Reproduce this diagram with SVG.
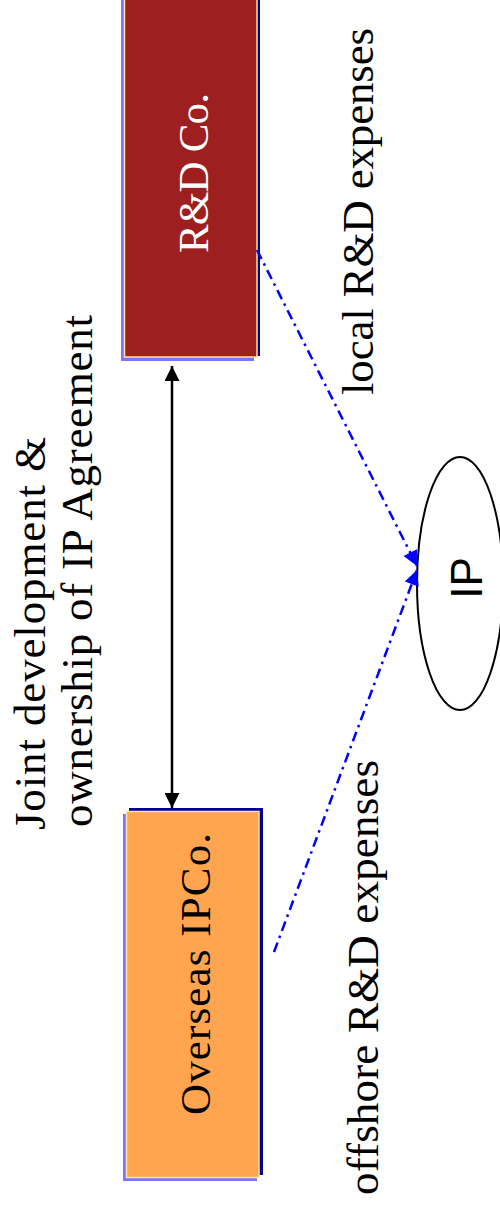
<svg xmlns="http://www.w3.org/2000/svg" width="500" height="1209" viewBox="0 0 500 1209">
<style>
.serif{font-family:"Liberation Serif","Times New Roman",serif;}
.lbl{font-size:45px;fill:#000;}
.box-txt{font-size:43px;}
.shadow-dark{fill:#000099;}
.shadow-light{fill:#7878ff;}
.bx{stroke:#ffe39a;stroke-width:1.5;}
.flow{fill:none;stroke:#0000ff;stroke-width:2.5;stroke-dasharray:10 5 2.5 5;}
.ctl{fill:none;stroke:#000;stroke-width:2.5;}
</style>
<defs>
<marker id="ab" viewBox="0 0 10 10" refX="10" refY="5" markerWidth="17" markerHeight="15" markerUnits="userSpaceOnUse" orient="auto"><path d="M0,0 L10,5 L0,10 z" fill="#0000ff"/></marker>
<marker id="ak" viewBox="0 0 10 10" refX="10" refY="5" markerWidth="16" markerHeight="15" markerUnits="userSpaceOnUse" orient="auto-start-reverse"><path d="M0,0 L10,5 L0,10 z" fill="#000"/></marker>
</defs>
<rect width="500" height="1209" fill="#fff"/>

<g id="rd-co">
<rect class="shadow-dark" x="127" y="-23" width="133" height="379"/>
<rect class="shadow-light" x="121" y="-17" width="133" height="378"/>
<rect class="bx" x="124.5" y="-20" width="132.5" height="377" fill="#9e1f20"/>
<text class="serif box-txt" fill="#fff" text-anchor="middle" textLength="160" transform="translate(208,173) rotate(-90)">R&amp;D Co.</text>
</g>

<g id="overseas-ipco">
<rect class="shadow-dark" x="129" y="808" width="134" height="367"/>
<rect class="shadow-light" x="123" y="814" width="134" height="367"/>
<rect class="bx" x="126.5" y="811.5" width="132.5" height="366" fill="#ffa550"/>
<text class="serif box-txt" fill="#000" text-anchor="middle" textLength="282" transform="translate(210,974) rotate(-90)">Overseas IPCo.</text>
</g>

<g id="ip">
<ellipse cx="460" cy="583.5" rx="43" ry="126.5" fill="#fff" stroke="#000" stroke-width="2"/>
<text font-family="Liberation Sans, Arial, sans-serif" font-size="44" fill="#000" text-anchor="middle" transform="translate(482,578) rotate(-90)">IP</text>
</g>

<g id="connectors">
<path class="ctl" d="M172,366 L172,808" marker-start="url(#ak)" marker-end="url(#ak)"/>
<path class="flow" d="M257,250 L417,566" marker-end="url(#ab)"/>
<path class="flow" d="M274,952 L417,570" marker-end="url(#ab)"/>
</g>

<g id="labels">
<text class="serif lbl" textLength="367" transform="translate(373,395) rotate(-90)">local R&amp;D expenses</text>
<text class="serif lbl" textLength="435" transform="translate(378,1195) rotate(-90)">offshore R&amp;D expenses</text>
<text class="serif lbl" textLength="393" transform="translate(45,830) rotate(-90)">Joint development &amp;</text>
<text class="serif lbl" textLength="512" transform="translate(92,827) rotate(-90)">ownership of IP Agreement</text>
</g>
</svg>
